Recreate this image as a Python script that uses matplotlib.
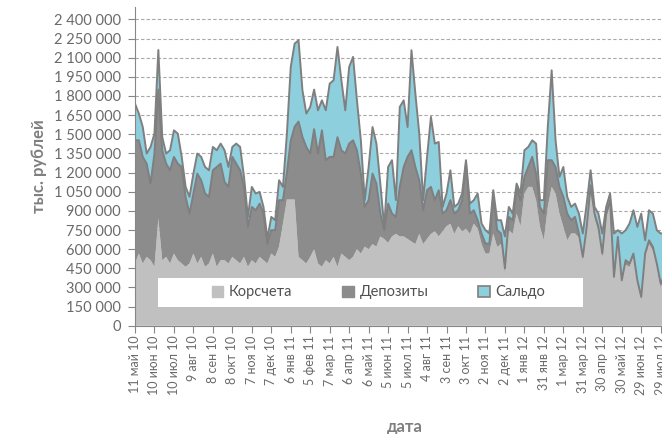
import numpy as np
import pandas as pd
import matplotlib
matplotlib.use("Agg")
from matplotlib import pyplot as plt
from matplotlib.patches import Patch, Rectangle
from matplotlib.ticker import FuncFormatter

# values in thousands of rubles, one reading every 6 days from 11 May 2010
start = "2010-05-11"
step_days = 6

korscheta = [488, 566, 488, 540, 514, 462, 840, 514, 540, 488, 566, 514, 488, 462, 488, 566,
             488, 540, 462, 488, 566, 462, 514, 514, 488, 540, 514, 488, 540, 462, 514, 488,
             540, 514, 488, 566, 540, 620, 800, 989, 989, 989, 540, 514, 488, 540, 600, 488,
             462, 514, 488, 540, 462, 566, 540, 514, 540, 600, 566, 620, 600, 640, 620, 700,
             680, 650, 700, 720, 700, 700, 680, 660, 640, 720, 640, 680, 720, 740, 700, 740,
             780, 800, 720, 780, 740, 760, 720, 800, 760, 640, 566, 566, 723, 618, 640, 410,
             749, 720, 879, 780, 1036, 1088, 1088, 984, 775, 670, 931, 1088, 1036, 879, 775, 670,
             723, 723, 690, 510, 740, 1060, 840, 740, 530, 840, 950, 350, 660, 330, 480, 460,
             540, 330, 200, 540, 640, 590, 460, 300, 370]
depozity = [965, 887, 835, 730, 600, 887, 1010, 861, 730, 730, 757, 756, 756, 548, 391, 470,
            704, 600, 574, 522, 652, 782, 756, 613, 600, 783, 756, 730, 548, 313, 417, 417,
            417, 365, 156, 183, 209, 364, 184, 211, 461, 571, 1060, 966, 912, 810, 940, 861,
            1069, 783, 835, 783, 1015, 809, 809, 913, 913, 775, 626, 311, 384, 552, 494, 179,
            69, 307, 179, 133, 388, 544, 643, 715, 604, 420, 265, 382, 368, 244, 362, 139,
            125, 184, 159, 125, 244, 510, 159, 105, 67, 83, 78, 78, 287, 131, 83, 40,
            104, 107, 209, 204, 130, 156, 235, 208, 156, 209, 366, 209, 208, 209, 235, 209,
            104, 130, 33, 30, 35, 40, 40, 35, 36, 39, 34, 34, 36, 27, 34, 28,
            26, 27, 27, 26, 30, 28, 28, 31, 30]
saldo = [287, 209, 234, 79, 287, 156, 310, 104, 79, 157, 208, 235, 79, 78, 131, 156,
         157, 183, 208, 208, 183, 131, 157, 248, 156, 78, 157, 183, 78, 78, 157, 131,
         92, 52, 39, 104, 78, 156, 104, 300, 577, 650, 636, 365, 262, 364, 310, 339,
         235, 391, 574, 600, 707, 548, 339, 600, 653, 391, 261, 53, 260, 365, 313, 235,
         26, 287, 418, 131, 626, 522, 234, 783, 574, 365, 79, 261, 548, 443, 378, 52,
         131, 234, 52, 52, 52, 27, 78, 79, 209, 78, 105, 79, 52, 78, 104, 250,
         78, 52, 26, 52, 209, 157, 130, 235, 53, 105, 260, 704, 209, 78, 234, 131,
         104, 104, 156, 183, 182, 118, 51, 104, 157, 52, 52, 339, 53, 366, 235, 313,
         339, 418, 652, 104, 235, 261, 261, 392, 323]

series_names = ["Корсчета", "Депозиты", "Сальдо"]
months = ["янв", "фев", "мар", "апр", "май", "июн", "июл", "авг", "сен", "окт", "ноя", "дек"]

K = np.array(korscheta) * 1000.0
D = np.array(depozity) * 1000.0
S = np.array(saldo) * 1000.0
dates = pd.date_range(start, periods=len(K), freq=f"{step_days}D")
tick_dates = pd.date_range(start, periods=28, freq="30D")

plt.rcParams["font.family"] = ["Lato", "DejaVu Sans"]

c_k = "#c0c0c0"
c_d = "#8c8c8c"
c_s = "#8ecfde"
c_line = "#7f7f7f"
c_txt = "#6a6a6a"

fig = plt.figure(figsize=(6.62, 4.34), dpi=100)
ax = fig.add_axes([0.2039, 0.2493, 0.7961, 0.7355])

ax.stackplot(dates, K, D, S, colors=[c_k, c_d, c_s], linewidth=0, zorder=2)
ax.plot(dates, K + D, color=c_line, lw=1.4, zorder=3)
ax.plot(dates, K + D + S, color=c_line, lw=1.4, zorder=3)

ax.set_ylim(0, 2500000)
ax.set_yticks(np.arange(0, 2400001, 150000))
ax.yaxis.set_major_formatter(FuncFormatter(lambda v, p: f"{v:,.0f}".replace(",", " ")))
ax.set_xlim(pd.Timestamp(start), pd.Timestamp(start) + pd.Timedelta(days=812))
ax.set_xticks(tick_dates)
ax.set_xticklabels([f"{d.day} {months[d.month - 1]} {d.year % 100:02d}" for d in tick_dates],
                   rotation=90)

ax.grid(axis="y", color="#a8a8a8", lw=0.8, linestyle=(0, (3, 2)), zorder=1)
ax.set_axisbelow(True)
for s in ["top", "right"]:
    ax.spines[s].set_visible(False)
for s in ["left", "bottom"]:
    ax.spines[s].set_color("#868686")
    ax.spines[s].set_zorder(4)
ax.tick_params(axis="both", colors="#868686", labelcolor=c_txt, length=5)
ax.tick_params(axis="y", labelsize=10.5, pad=5)
ax.tick_params(axis="x", labelsize=9, pad=2)

ax.set_ylabel("тыс. рублей", fontsize=12, fontweight="bold", color="#7f7f7f")
ax.yaxis.set_label_coords(-0.167, 0.5)
ax.set_xlabel("дата", fontsize=12, fontweight="bold", color="#7f7f7f")
ax.xaxis.set_label_coords(0.512, -0.293)

# legend box
ax.add_patch(Rectangle((0.044, 0.059), 0.806, 0.091, transform=ax.transAxes,
                       facecolor="white", edgecolor="none", zorder=5))
handles = [Patch(facecolor=c_k, edgecolor=c_k),
           Patch(facecolor=c_d, edgecolor=c_d),
           Patch(facecolor=c_s, edgecolor=c_line, linewidth=1.2)]
leg = ax.legend(handles, series_names, loc="center", bbox_to_anchor=(0.462, 0.1045),
                ncol=3, frameon=False, fontsize=10.5, handlelength=0.8, handleheight=0.8,
                handletextpad=0.4, columnspacing=3.4, labelcolor="#505050")
leg.set_zorder(6)

fig.savefig("out.png", dpi=100)
